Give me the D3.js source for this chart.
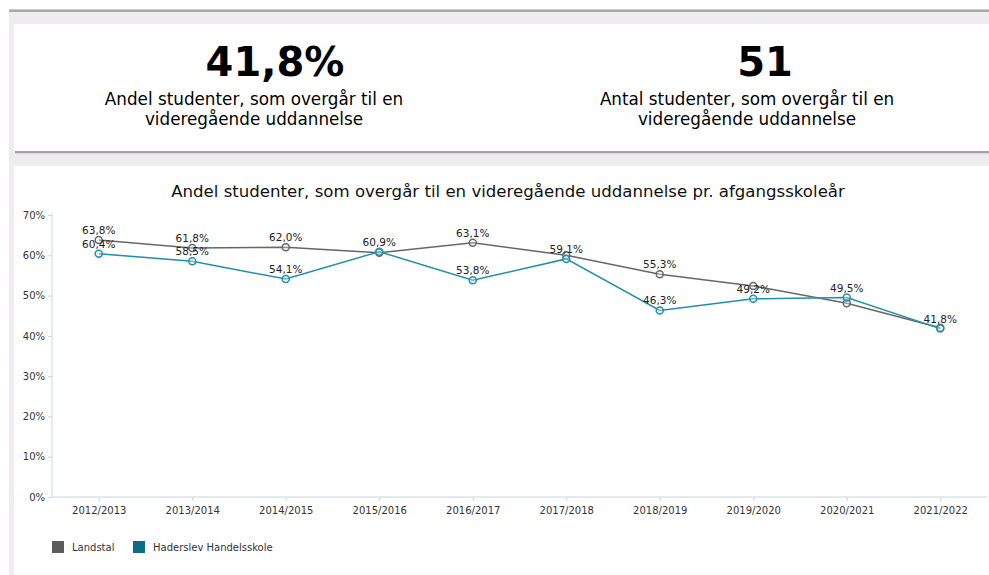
<!DOCTYPE html>
<html>
<head>
<meta charset="utf-8">
<script src="https://cdn.jsdelivr.net/npm/d3@7"></script>
<style>
  body { margin: 0; background: #fff; font-family: "DejaVu Sans", Verdana, sans-serif; }
  svg { display: block; }
</style>
</head>
<body>
<script>
// afgangsskoleår
var years = ["2012/2013", "2013/2014", "2014/2015", "2015/2016", "2016/2017",
             "2017/2018", "2018/2019", "2019/2020", "2020/2021", "2021/2022"];
var landstal = [63.8, 61.8, 62.0, 60.6, 63.1, 60.0, 55.3, 52.4, 48.1, 42.0];
var haderslev = [60.4, 58.5, 54.1, 60.9, 53.8, 59.1, 46.3, 49.2, 49.5, 41.8];
var yTicks = [0, 10, 20, 30, 40, 50, 60, 70];

var kpiValues = ["41,8%", "51"];
var kpiLabels = [
  ["Andel studenter, som overgår til en", "videregående uddannelse"],
  ["Antal studenter, som overgår til en", "videregående uddannelse"]
];
var title = "Andel studenter, som overgår til en videregående uddannelse pr. afgangsskoleår";

var series = [
  { name: "Landstal", values: landstal, color: "#676767", legend: "#5b5b5b" },
  { name: "Haderslev Handelsskole", values: haderslev, color: "#2190aa", legend: "#0d6e82" }
];

var w = 989, h = 575;
var margin = { top: 215, right: 2, bottom: 78, left: 52 };

var svg = d3.select("body").append("svg")
    .attr("width", w)
    .attr("height", h);

// page frame
svg.append("rect").attr("x", 9).attr("y", 9).attr("width", w - 9).attr("height", h - 9).attr("fill", "#efebf1");
svg.append("rect").attr("x", 9).attr("y", 9).attr("width", w - 9).attr("height", 1).attr("fill", "#d0d0d0");
svg.append("rect").attr("x", 9).attr("y", 10).attr("width", w - 9).attr("height", 2).attr("fill", "#a8a8a8");
svg.append("rect").attr("x", 14).attr("y", 24).attr("width", w - 14).attr("height", 127).attr("fill", "#fff");
svg.append("rect").attr("x", 15).attr("y", 151).attr("width", w - 15).attr("height", 2).attr("fill", "#a4a4a4");
svg.append("rect").attr("x", 15).attr("y", 153).attr("width", w - 15).attr("height", 1).attr("fill", "#d6d6d6");
svg.append("rect").attr("x", 14).attr("y", 166).attr("width", w - 14).attr("height", h - 166).attr("fill", "#fff");

// KPI boxes
var kpiX = [275, 765];
var kpiTextX = [254, 747];
kpiValues.forEach(function(v, i) {
  svg.append("text")
      .attr("x", kpiX[i]).attr("y", 76)
      .attr("text-anchor", "middle")
      .style("font-size", "40px").style("font-weight", "bold")
      .attr("fill", "#000")
      .text(v);
  kpiLabels[i].forEach(function(line, j) {
    svg.append("text")
        .attr("x", kpiTextX[i]).attr("y", 105 + j * 20)
        .attr("text-anchor", "middle")
        .style("font-size", "16.8px")
        .attr("fill", "#000")
        .text(line);
  });
});

// chart
var plotBottom = h - margin.bottom;
var xScale = d3.scalePoint()
    .domain(years)
    .range([margin.left, w - margin.right])
    .padding(0.5);
var yScale = d3.scaleLinear()
    .domain([0, 70])
    .range([plotBottom, margin.top]);

svg.append("text")
    .attr("x", 508).attr("y", 197)
    .attr("text-anchor", "middle")
    .style("font-size", "16.6px")
    .attr("fill", "#111")
    .text(title);

var yAxis = svg.append("g")
    .attr("transform", "translate(" + margin.left + ",0)")
    .call(d3.axisLeft(yScale).tickValues(yTicks).tickSize(4).tickPadding(3)
          .tickFormat(function(d) { return d + "%"; }));
yAxis.select(".domain").attr("stroke", "#ccd6e0").attr("d", "M0," + (margin.top - 2) + "V" + plotBottom);

var xAxis = svg.append("g")
    .attr("transform", "translate(0," + plotBottom + ")")
    .call(d3.axisBottom(xScale).tickSize(4).tickSizeOuter(0).tickPadding(6));
xAxis.select(".domain").attr("stroke", "#ccd6e0").attr("d", "M" + margin.left + ",0H" + (w - margin.right));

svg.selectAll(".tick line").attr("stroke", "#ccd6e0");
svg.selectAll(".tick text")
    .attr("fill", "#333")
    .style("font-size", "10px")
    .style("font-family", "'DejaVu Sans', Verdana, sans-serif");

var line = d3.line()
    .x(function(d, i) { return xScale(years[i]); })
    .y(function(d) { return yScale(d); });

series.forEach(function(s) {
  svg.append("path")
      .datum(s.values)
      .attr("fill", "none")
      .attr("stroke", s.color)
      .attr("stroke-width", 1.5)
      .attr("d", line);
  svg.selectAll(null)
      .data(s.values)
      .enter()
      .append("circle")
      .attr("cx", function(d, i) { return xScale(years[i]); })
      .attr("cy", function(d) { return yScale(d); })
      .attr("r", 3.5)
      .attr("fill", "#fff")
      .attr("fill-opacity", 0.3)
      .attr("stroke", s.color)
      .attr("stroke-width", 1.5);
});

// data labels, Landstal hidden when it collides with the school label
function fmt(v) { return v.toFixed(1).replace(".", ",") + "%"; }
series.forEach(function(s, si) {
  var pts = s.values.map(function(v, i) { return { year: years[i], value: v, other: haderslev[i] }; })
      .filter(function(p) {
        if (si === 0) return Math.abs(yScale(p.value) - yScale(p.other)) > 13.1;
        return true;
      });
  svg.selectAll(null)
      .data(pts)
      .enter()
      .append("text")
      .attr("x", function(d) { return xScale(d.year); })
      .attr("y", function(d) { return yScale(d.value) - 6; })
      .attr("text-anchor", "middle")
      .style("font-size", "10.5px")
      .attr("fill", "#222")
      .text(function(d) { return fmt(d.value); });
});

// legend
var legendX = [52, 133];
series.forEach(function(s, i) {
  svg.append("rect")
      .attr("x", legendX[i]).attr("y", 541)
      .attr("width", 12).attr("height", 12)
      .attr("fill", s.legend);
  svg.append("text")
      .attr("x", legendX[i] + 20).attr("y", 551)
      .style("font-size", "10px")
      .attr("fill", "#333")
      .text(s.name);
});
</script>
</body>
</html>
